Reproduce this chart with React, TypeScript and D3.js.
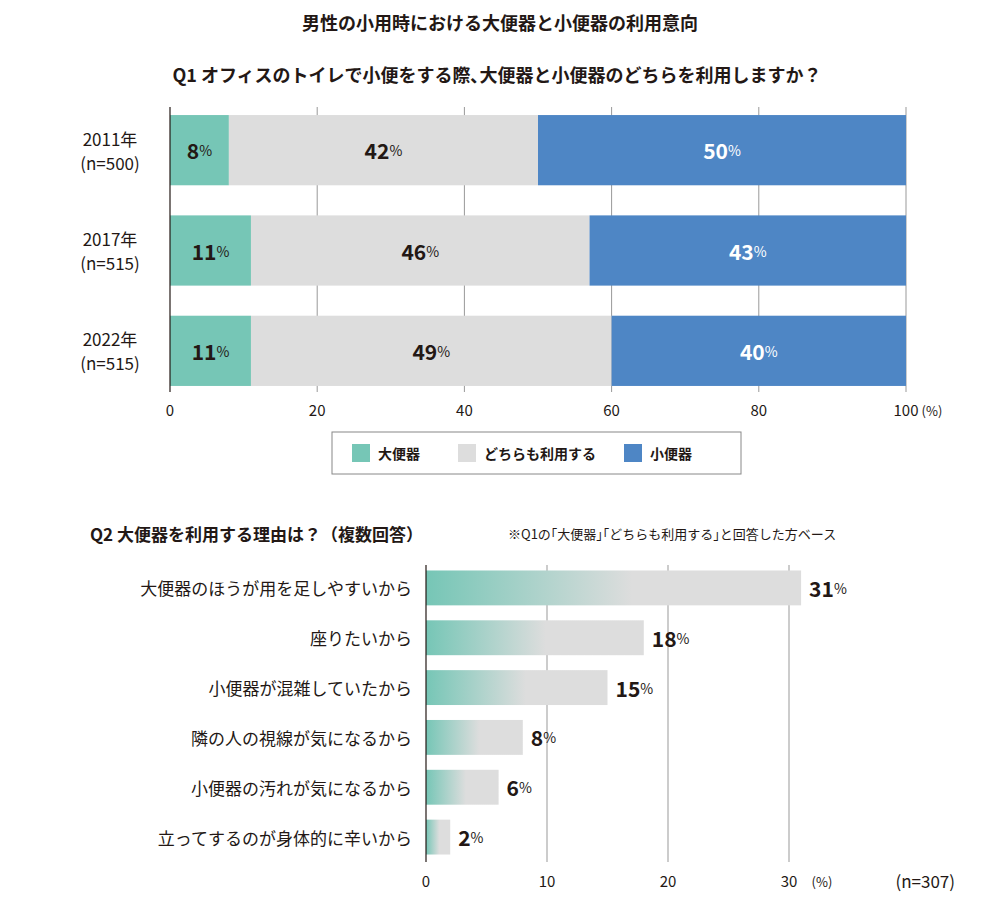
import React from "react";
import * as d3 from "d3";

const years = ["2011年", "2017年", "2022年"];
const ns = ["(n=500)", "(n=515)", "(n=515)"];
const big = [8, 11, 11];
const both = [42, 46, 49];
const small = [50, 43, 40];
const q1Ticks = [0, 20, 40, 60, 80, 100];

const reasons = [
  "大便器のほうが用を足しやすいから",
  "座りたいから",
  "小便器が混雑していたから",
  "隣の人の視線が気になるから",
  "小便器の汚れが気になるから",
  "立ってするのが身体的に辛いから",
];
const reasonVals = [31, 18, 15, 8, 6, 2];
const q2Ticks = [0, 10, 20, 30];

const TEAL = "#76c6b6";
const GRAY = "#dddddd";
const BLUE = "#4e86c5";
const FONT = "'Noto Sans CJK JP', 'Noto Sans', sans-serif";
const TXT = "#231815";

export default function App() {
  const x1 = d3.scaleLinear().domain([0, 100]).range([170, 906]);
  const y1 = d3.scaleBand().domain(years).range([100, 401]).paddingInner(0.3).paddingOuter(0.15);
  const x2 = d3.scaleLinear().domain([0, 30]).range([426, 789]);
  const y2 = d3.scaleBand().domain(reasons).range([563, 862]).paddingInner(0.3).paddingOuter(0.15);

  const Val = ({ x, y, v, fill, anchor = "middle" }: any) => (
    <text x={x} y={y} textAnchor={anchor} dominantBaseline="central" fill={fill} fontFamily={FONT} fontWeight={700}>
      <tspan fontSize={21}>{v}</tspan>
      <tspan fontSize={14} fontWeight={400}>%</tspan>
    </text>
  );

  return (
    <svg width={1000} height={907} style={{ display: "block", margin: "-8px" }}>
      <defs>
        <linearGradient id="g" x1="0" x2="1" y1="0" y2="0">
          <stop offset="0" stopColor={TEAL} />
          <stop offset="0.55" stopColor={GRAY} />
          <stop offset="1" stopColor={GRAY} />
        </linearGradient>
      </defs>
      <rect width={1000} height={907} fill="#fff" />
      <text x={500} y={30} textAnchor="middle" fontFamily={FONT} fontWeight={700} fontSize={18} fill={TXT}>男性の小用時における大便器と小便器の利用意向</text>
      <text x={497} y={82} textAnchor="middle" fontFamily={FONT} fontWeight={700} fontSize={18} fill={TXT}>Q1 オフィスのトイレで小便をする際､大便器と小便器のどちらを利用しますか？</text>

      {q1Ticks.slice(1).map((t) => (
        <line key={t} x1={x1(t)} x2={x1(t)} y1={107} y2={392} stroke="#999" strokeWidth={1} />
      ))}
      {years.map((yr, i) => {
        const y = y1(yr)!, h = y1.bandwidth();
        const cy = y + h / 2;
        const a = big[i], b = both[i], c = small[i];
        return (
          <g key={yr}>
            <rect x={x1(0)} y={y} width={x1(a) - x1(0)} height={h} fill={TEAL} />
            <rect x={x1(a)} y={y} width={x1(a + b) - x1(a)} height={h} fill={GRAY} />
            <rect x={x1(a + b)} y={y} width={x1(100) - x1(a + b)} height={h} fill={BLUE} />
            <Val x={x1(a / 2)} y={cy} v={a} fill={TXT} />
            <Val x={x1(a + b / 2)} y={cy} v={b} fill={TXT} />
            <Val x={x1(a + b + c / 2)} y={cy} v={c} fill="#fff" />
            <text x={110} y={cy - 12} textAnchor="middle" dominantBaseline="central" fontFamily={FONT} fontSize={17} fill={TXT}>{yr}</text>
            <text x={110} y={cy + 12} textAnchor="middle" dominantBaseline="central" fontFamily={FONT} fontSize={17} fill={TXT}>{ns[i]}</text>
          </g>
        );
      })}
      <line x1={x1(0)} x2={x1(0)} y1={107} y2={392} stroke={TXT} strokeWidth={1.2} />
      {q1Ticks.map((t) => (
        <text key={t} x={x1(t)} y={409} textAnchor="middle" dominantBaseline="central" fontFamily={FONT} fontSize={15} fill={TXT}>{t}</text>
      ))}
      <text x={932} y={410} textAnchor="middle" dominantBaseline="central" fontFamily={FONT} fontSize={13} fill={TXT}>(%)</text>

      <rect x={332} y={432} width={409} height={42} fill="#fff" stroke="#888" />
      {[["大便器", TEAL, 352], ["どちらも利用する", GRAY, 458], ["小便器", BLUE, 624]].map(([l, c, x]: any) => (
        <g key={l}>
          <rect x={x} y={444} width={18} height={18} fill={c} />
          <text x={x + 26} y={453} dominantBaseline="central" fontFamily={FONT} fontWeight={700} fontSize={14} fill={TXT}>{l}</text>
        </g>
      ))}

      <text x={90} y={533} dominantBaseline="central" fontFamily={FONT} fontWeight={700} fontSize={17} fill={TXT}>Q2 大便器を利用する理由は？（複数回答）</text>
      <text x={508} y={533} dominantBaseline="central" fontFamily={FONT} fontSize={13} fill={TXT}>※Q1の｢大便器｣｢どちらも利用する｣と回答した方ベース</text>

      {q2Ticks.slice(1).map((t) => (
        <line key={t} x1={x2(t)} x2={x2(t)} y1={565} y2={862} stroke="#999" strokeWidth={1} />
      ))}
      {reasons.map((r, i) => {
        const y = y2(r)!, h = y2.bandwidth(), cy = y + h / 2;
        const v = reasonVals[i];
        return (
          <g key={r}>
            <rect x={x2(0)} y={y} width={x2(v) - x2(0)} height={h} fill="url(#g)" />
            <text x={412} y={cy} textAnchor="end" dominantBaseline="central" fontFamily={FONT} fontSize={17} fill={TXT}>{r}</text>
            <Val x={x2(v) + 8} y={cy} v={v} fill={TXT} anchor="start" />
          </g>
        );
      })}
      <line x1={x2(0)} x2={x2(0)} y1={565} y2={862} stroke={TXT} strokeWidth={1.2} />
      {q2Ticks.map((t) => (
        <text key={t} x={x2(t)} y={880} textAnchor="middle" dominantBaseline="central" fontFamily={FONT} fontSize={15} fill={TXT}>{t}</text>
      ))}
      <text x={822} y={881} textAnchor="middle" dominantBaseline="central" fontFamily={FONT} fontSize={13} fill={TXT}>(%)</text>
      <text x={955} y={880} textAnchor="end" dominantBaseline="central" fontFamily={FONT} fontSize={17} fill={TXT}>(n=307)</text>
    </svg>
  );
}
